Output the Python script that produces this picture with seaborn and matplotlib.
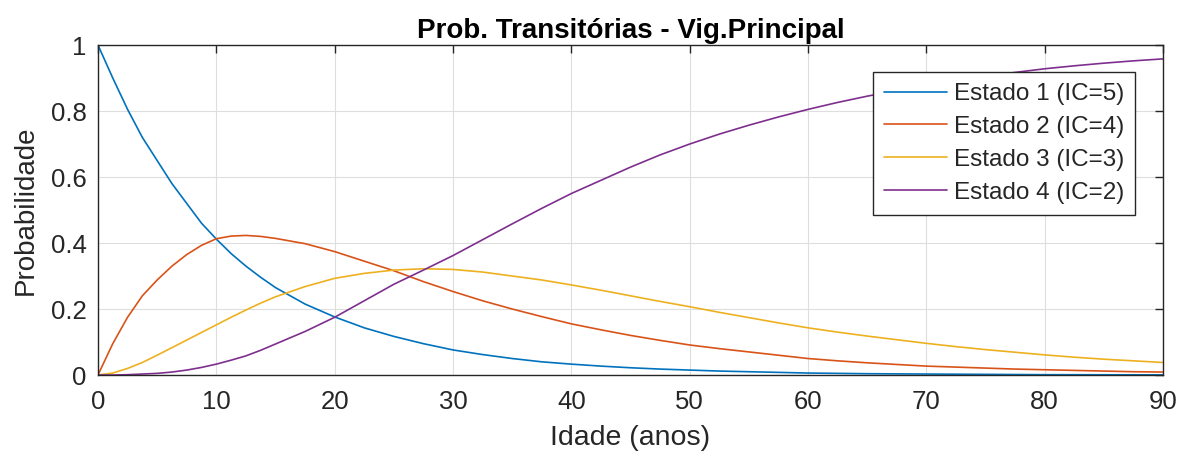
import numpy as np
import pandas as pd
import matplotlib
matplotlib.use("Agg")
import matplotlib.pyplot as plt
import seaborn as sns

# idade (anos)
idade = [0, 1.25, 2.5, 3.75, 5, 6.25, 7.5, 8.75, 10, 11.25, 12.5, 13.75, 15, 17.5,
         20, 22.5, 25, 27.5, 30, 32.5, 35, 37.5, 40, 42.5, 45, 47.5, 50, 52.5, 55,
         57.5, 60, 62.5, 65, 67.5, 70, 72.5, 75, 77.5, 80, 82.5, 85, 87.5, 90]

# probabilidades
estado1 = [1.0, 0.9, 0.805, 0.72, 0.65, 0.58, 0.52, 0.46, 0.412, 0.368, 0.33, 0.296,
           0.265, 0.215, 0.176, 0.143, 0.117, 0.095, 0.076, 0.062, 0.05, 0.04,
           0.033, 0.027, 0.022, 0.018, 0.015, 0.012, 0.01, 0.008, 0.006, 0.005,
           0.004, 0.0035, 0.003, 0.0025, 0.002, 0.0015, 0.001, 0.0009, 0.0007,
           0.0006, 0.0005]
estado2 = [0.0, 0.095, 0.175, 0.24, 0.288, 0.33, 0.365, 0.393, 0.413, 0.421, 0.423, 0.42,
           0.414, 0.398, 0.374, 0.345, 0.316, 0.283, 0.253, 0.225, 0.2, 0.177,
           0.155, 0.137, 0.12, 0.105, 0.091, 0.08, 0.07, 0.06, 0.05, 0.043, 0.037,
           0.032, 0.027, 0.024, 0.021, 0.018, 0.016, 0.014, 0.012, 0.01, 0.009]
estado3 = [0.0, 0.006, 0.02, 0.038, 0.06, 0.083, 0.106, 0.129, 0.152, 0.175, 0.197,
           0.218, 0.237, 0.268, 0.293, 0.308, 0.318, 0.322, 0.32, 0.312, 0.30,
           0.288, 0.273, 0.257, 0.24, 0.223, 0.207, 0.19, 0.174, 0.158, 0.143, 0.13,
           0.118, 0.107, 0.096, 0.086, 0.077, 0.069, 0.061, 0.054, 0.048, 0.043,
           0.038]
estado4 = [0.0, 0.0, 0.001, 0.003, 0.005, 0.009, 0.015, 0.023, 0.033, 0.045, 0.058,
           0.075, 0.094, 0.132, 0.175, 0.225, 0.275, 0.318, 0.362, 0.41, 0.458,
           0.505, 0.55, 0.59, 0.63, 0.667, 0.70, 0.73, 0.757, 0.782, 0.805, 0.826,
           0.845, 0.862, 0.877, 0.892, 0.905, 0.917, 0.928, 0.937, 0.945, 0.952,
           0.958]

labels = ["Estado 1 (IC=5)", "Estado 2 (IC=4)", "Estado 3 (IC=3)", "Estado 4 (IC=2)"]
cores = ["#0072BD", "#D95319", "#EDB120", "#7E2F8E"]

df = pd.DataFrame({
    "Idade": idade * 4,
    "Prob": estado1 + estado2 + estado3 + estado4,
    "Estado": np.repeat(labels, len(idade)),
})

sns.set_style("white")
plt.rcParams["font.family"] = ["Liberation Sans", "DejaVu Sans"]
txt = "#262626"

fig = plt.figure(figsize=(11.89, 4.65), dpi=100)
ax = fig.add_axes([0.0824, 0.1935, 0.8958, 0.7097])

sns.lineplot(data=df, x="Idade", y="Prob", hue="Estado", palette=cores,
             linewidth=1.2, ax=ax)

ax.set_xlim(0, 90)
ax.set_ylim(0, 1)
ax.set_xticks(range(0, 91, 10))
ax.set_yticks([0, 0.2, 0.4, 0.6, 0.8, 1])
ax.set_yticklabels(["0", "0.2", "0.4", "0.6", "0.8", "1"])
ax.grid(True, color="#dedede", linewidth=0.8)
for s in ax.spines.values():
    s.set_color(txt)
    s.set_linewidth(1.0)
ax.tick_params(direction="in", top=True, right=True, length=6, width=1.0,
               colors=txt, labelsize=18.5, pad=8)
ax.tick_params(axis="x", pad=11)

ax.set_title("Prob. Transitórias - Vig.Principal", fontsize=20, fontweight="bold",
             color="black", pad=5)
ax.set_xlabel("Idade (anos)", fontsize=20.5, color=txt, labelpad=8)
ax.set_ylabel("Probabilidade", fontsize=20, color=txt, labelpad=9)

leg = ax.legend(loc="upper right", bbox_to_anchor=(0.974, 0.918), fontsize=17.5,
                frameon=True, fancybox=False, edgecolor=txt, framealpha=1,
                handlelength=2.6, handletextpad=0.3, borderpad=0.45,
                labelspacing=0.45, borderaxespad=0)
leg.get_frame().set_linewidth(1.0)
for t in leg.get_texts():
    t.set_color(txt)

fig.savefig("out.png", dpi=100)
